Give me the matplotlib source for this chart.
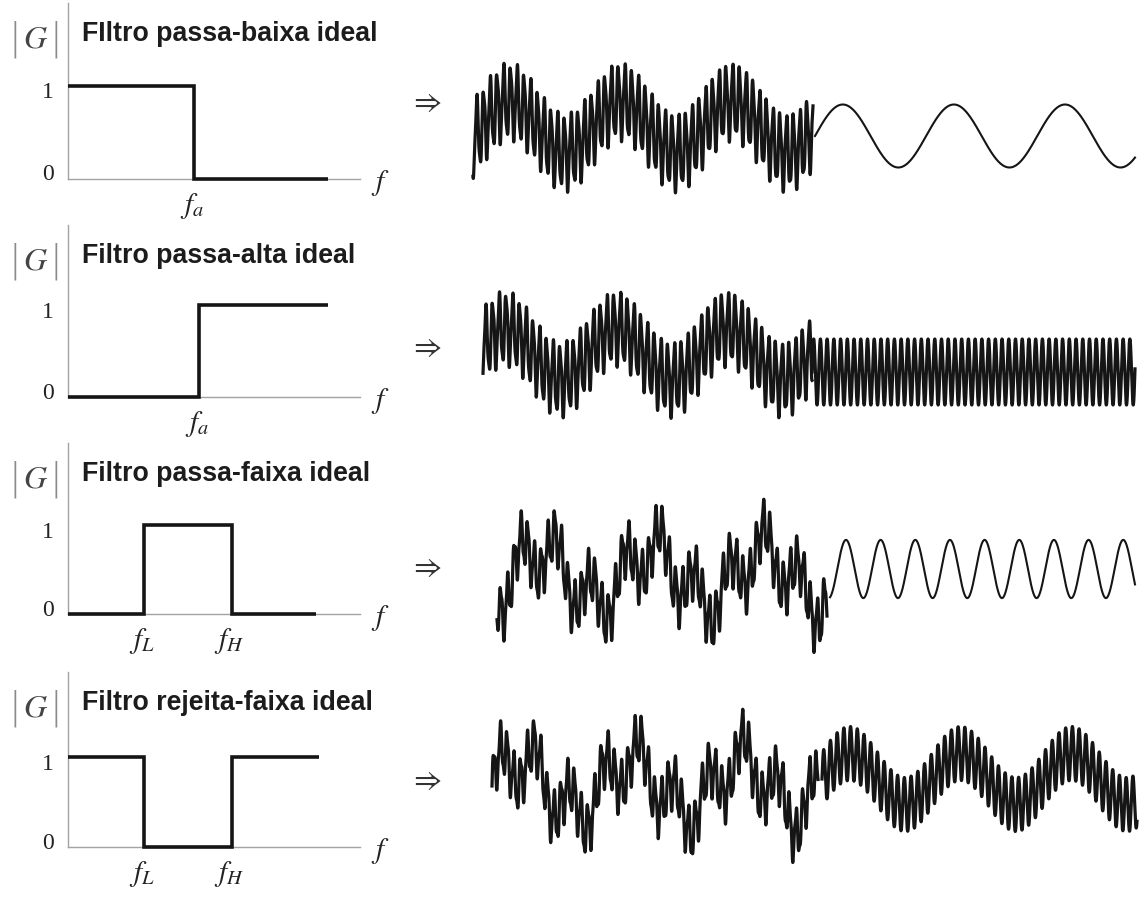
import numpy as np
import matplotlib.pyplot as plt

plt.rcParams['mathtext.fontset'] = 'stix'

# ---- filter responses (normalised frequency axis 0..1) ----
titles = ["FIltro passa-baixa ideal", "Filtro passa-alta ideal",
          "Filtro passa-faixa ideal", "Filtro rejeita-faixa ideal"]
band_edges = [[0.0, 0.43, 0.89],
              [0.0, 0.45, 0.89],
              [0.0, 0.26, 0.56, 0.85],
              [0.0, 0.26, 0.56, 0.86]]
band_gain = [[1, 0], [0, 1], [0, 1, 0], [1, 0, 1]]
edge_names = [[r"$f_a$"], [r"$f_a$"], [r"$f_L$", r"$f_H$"], [r"$f_L$", r"$f_H$"]]

# ---- test signals: low / mid / high / ripple sinusoids ----
comp_freq = [1.0, 3.2, 16.5, 41.2]    # cycles per time unit
in_amp = [[0.85, 0.0, 1.15, 0.20],
          [0.85, 0.0, 1.10, 0.20],
          [0.85, 0.80, 0.80, 0.20],
          [0.85, 0.80, 0.80, 0.20]]
out_amp = [[1.05, 0.0, 0.0, 0.0],
           [0.0, 0.0, 1.10, 0.0],
           [0.0, 0.97, 0.0, 0.0],
           [0.85, 0.0, 0.90, 0.0]]
in_t0 = [-0.08, 0.05, -0.14, 0.0]
out_t0 = [0.0, 0.0, -0.066, 0.0]
in_span = [3.06, 2.96, 2.97, 2.94]
out_span = [2.88, 2.91, 2.75, 2.84]

# page layout in pixels
W, H = 1139, 897
left_rows = [(3, 86, 179), (225, 305, 397), (443, 525, 614), (672, 757, 847)]  # top, one, zero
in_rows = [(473, 813, 127), (483, 812, 354), (497, 827, 576), (492, 818, 786)]
out_rows = [(815, 1135, 136), (812, 1135, 372), (830, 1135, 569), (822, 1137, 779)]
arrow_y = [102, 347, 567, 780]
px_unit = 30.0

fig = plt.figure(figsize=(W / 100, H / 100), dpi=100)


def box(x0, x1, ytop, ybot):
    return [x0 / W, 1 - ybot / H, (x1 - x0) / W, (ybot - ytop) / H]


def signal(t, amps):
    y = np.zeros_like(t)
    for f, a in zip(comp_freq, amps):
        y += a * np.sin(2 * np.pi * f * t)
    return y


axis_grey = '#a3a3a3'
ink = '#151515'

for i in range(4):
    top, one, zero = left_rows[i]
    ax = fig.add_axes(box(68, 360, top, zero))
    ax.set_xlim(0, 1)
    ax.set_ylim(0, (zero - top) / (zero - one))
    for s in ['top', 'right']:
        ax.spines[s].set_visible(False)
    for s in ['left', 'bottom']:
        ax.spines[s].set_color(axis_grey)
        ax.spines[s].set_linewidth(1.0)
    ax.set_xticks([])
    ax.set_yticks([])
    ax.patch.set_alpha(0)

    ax.stairs(band_gain[i], band_edges[i], baseline=None, color=ink, lw=2.6,
              clip_on=False, zorder=5)

    # y values 0 / 1
    for v, dy in [(0, 4), (1, -7)]:
        ax.annotate(str(v), xy=(0, v), xycoords=('axes fraction', 'data'),
                    xytext=(-20, dy), textcoords='offset pixels',
                    ha='center', va='center', fontsize=17,
                    family='Liberation Serif', color='#222')
    # band edge labels
    for e, name in zip(band_edges[i][1:-1], edge_names[i]):
        ax.annotate(name, xy=(e, 0), xytext=(-2, -27), textcoords='offset pixels',
                    ha='center', va='center', fontsize=21, color='#222')
    ax.annotate(r"$f$", xy=(1, 0), xycoords=('axes fraction', 'data'),
                xytext=(20, -4), textcoords='offset pixels',
                ha='center', va='center', fontsize=21, color='#222')
    # |G| : tall grey bars around an italic G
    for dx in (-53, -12):
        ax.annotate("|", xy=(0, 1), xycoords='axes fraction',
                    xytext=(dx, -36), textcoords='offset pixels',
                    ha='center', va='center', fontsize=27,
                    family='DejaVu Sans', fontweight='light', color='#8a8a8a')
    ax.annotate(r"$G$", xy=(0, 1), xycoords='axes fraction',
                xytext=(-32, -36), textcoords='offset pixels',
                ha='center', va='center', fontsize=23, color='#444444')
    ax.annotate(titles[i], xy=(0, 1), xycoords='axes fraction',
                xytext=(14, -38), textcoords='offset pixels',
                ha='left', va='baseline', fontsize=19.3, fontweight='bold',
                family='Liberation Sans', color='#1c1c1c')

    fig.text(425 / W, 1 - arrow_y[i] / H, r"$\Rightarrow$", fontsize=22,
             ha='center', va='center', color='#333')

    # input signal and filtered output
    for (x0, x1, yc), amps, t0, span in [
            (in_rows[i], in_amp[i], in_t0[i], in_span[i]),
            (out_rows[i], out_amp[i], out_t0[i], out_span[i])]:
        half = 100
        sax = fig.add_axes(box(x0, x1, yc - half, yc + half))
        t = np.linspace(0, span, 6000)
        # the fast component reads as a dense band, so draw it heavier
        lw = 2.3 if amps[2] > 0 else 1.5
        sax.plot(t, signal(t + t0, amps), color=ink, lw=lw, clip_on=False)
        sax.set_xlim(0, span)
        sax.set_ylim(-half / px_unit, half / px_unit)
        sax.axis('off')

fig.savefig('out.png', dpi=100, facecolor='white')
